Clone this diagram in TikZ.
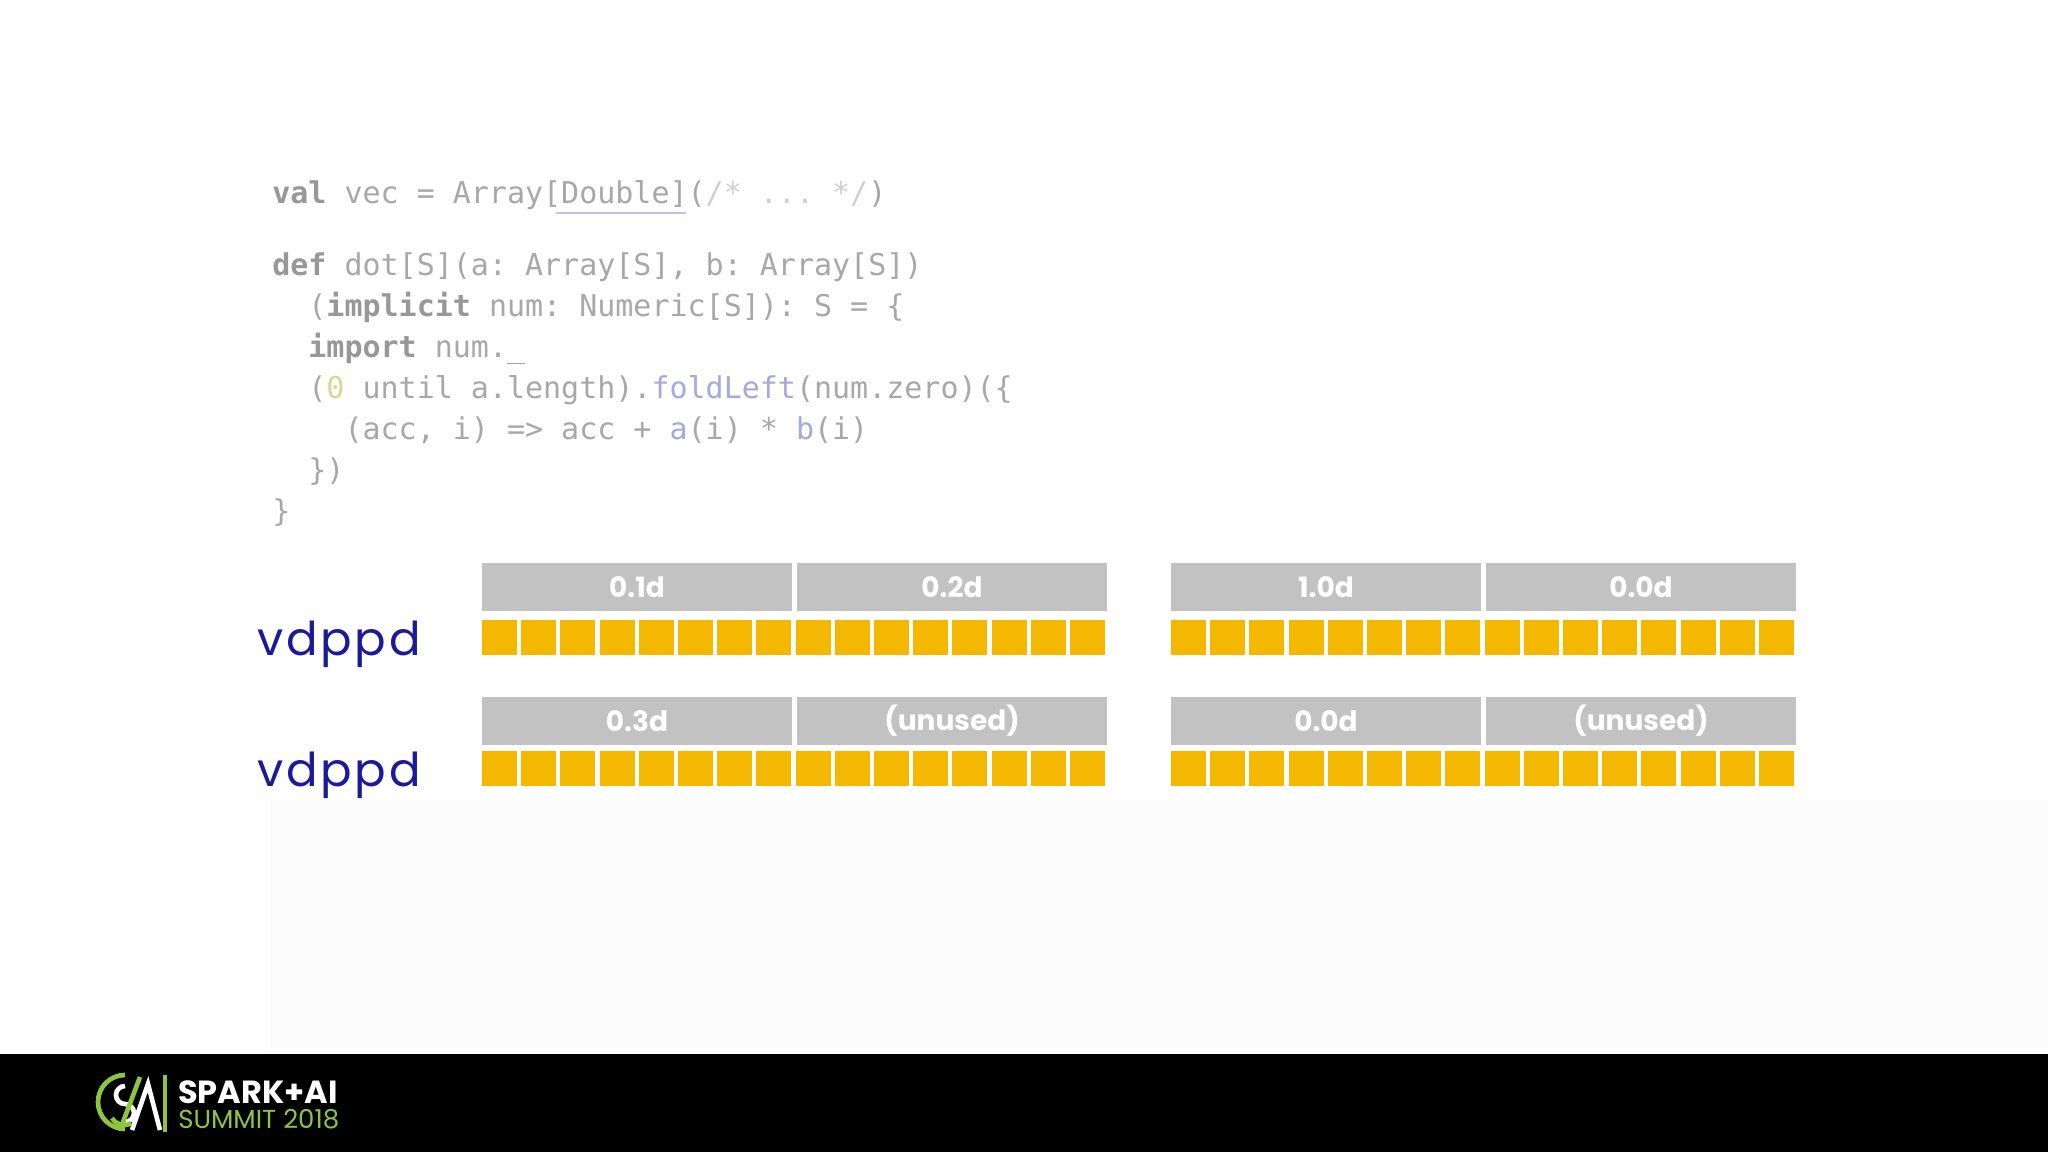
\documentclass[tikz,border=0pt]{standalone}
\usepackage{fontspec}
\setmainfont{Poppins}
\setmonofont{DejaVu Sans Mono}
\definecolor{codeg}{HTML}{A8A8A8}
\definecolor{kw}{HTML}{989898}
\definecolor{cmt}{HTML}{D0D0D0}
\definecolor{fn}{HTML}{A8A8E0}
\definecolor{num}{HTML}{D8D890}
\definecolor{hdr}{HTML}{C2C2C2}
\definecolor{yel}{HTML}{F5B800}
\definecolor{dblue}{HTML}{1A1A9A}
\definecolor{sgreen}{HTML}{8CC63F}
\newcommand{\K}[1]{\textcolor{kw}{\textbf{#1}}}
\newcommand{\F}[1]{\textcolor{fn}{#1}}
\tikzset{
  codeline/.style={anchor=base west,inner sep=0,text=codeg,font=\ttfamily\fontsize{22.5}{26}\selectfont},
  hdrbox/.style={fill=hdr,draw=none,minimum height=36pt,minimum width=232.5pt,text=white,font=\bfseries\fontsize{21}{24}\selectfont},
  vlabel/.style={anchor=base west,inner sep=0,text=dblue,font=\addfontfeatures{LetterSpace=6}\fontsize{35}{40}\selectfont}
}
\begin{document}
\begin{tikzpicture}[x=0.75pt,y=-0.75pt]
\useasboundingbox (0,0) rectangle (2048,1152);
\fill[white] (0,0) rectangle (2048,1152);
\fill[black!1] (270,800) rectangle (2048,1054);
% code
\node[codeline] (l1) at (272,204) {\K{val} vec = Array[Double](\textcolor{cmt}{/* ... */})};
\draw[fn!70,line width=1.1pt] (556,213) -- (686,213);
\node[codeline] (l2) at (272,275) {\K{def} dot[S](a: Array[S], b: Array[S])};
\node[codeline] (l3) at (272,316) {\ \ (\K{implicit} num: Numeric[S]): S = \{};
\node[codeline] (l4) at (272,357) {\ \ \K{import} num.\_};
\node[codeline] (l5) at (272,398) {\ \ (\textcolor{num}{0} until a.length).\F{foldLeft}(num.zero)(\{};
\node[codeline] (l6) at (272,439) {\ \ \ \ (acc, i) => acc + \F{a}(i) * \F{b}(i)};
\node[codeline] (l7) at (272,480) {\ \ \})};
\node[codeline] (l8) at (272,521) {\}};
% labels
\node[vlabel] (v1) at (257,655) {vdppd};
\node[vlabel] (v2) at (257,786) {vdppd};
% headers
\foreach \y/\a/\b/\c/\d [count=\r] in {587/0.1d/0.2d/1.0d/0.0d, 721/0.3d/(unused)/0.0d/(unused)}{
  \node[hdrbox] (h\r a) at (637,\y) {\a};
  \node[hdrbox] (h\r b) at (952,\y) {\b};
  \node[hdrbox] (h\r c) at (1326,\y) {\c};
  \node[hdrbox] (h\r d) at (1641,\y) {\d};
}
\foreach \y in {620,751}{
  \foreach \s in {482,1171}{
    \foreach \i in {0,...,15}{
      \fill[yel] ({\s+\i*39.2},\y) rectangle ({\s+\i*39.2+35},{\y+35});
    }
  }
}
% footer
\fill[black] (0,1054) rectangle (2048,1152);
\begin{scope}[line width=3.5pt]
  \draw[sgreen] (125,1075) arc (270:90:27);
  \draw[white] (125,1086) arc (270:90:9) arc (270:450:9);
  \draw[sgreen] (112,1118) arc (150:60:14);
  \draw[sgreen] (120,1130) -- (140,1077);
  \draw[white] (132,1130) -- (148,1084) -- (160,1130);
  \draw[sgreen] (165,1075) -- (165,1132);
\end{scope}
\node[anchor=base west,inner sep=0,text=white,font=\bfseries\fontsize{24}{26}\selectfont] (s1) at (178,1103) {SPARK+AI};
\node[anchor=base west,inner sep=0,text=sgreen,font=\fontsize{19.5}{22}\selectfont] (s2) at (178,1128) {SUMMIT 2018};
\end{tikzpicture}
\end{document}
